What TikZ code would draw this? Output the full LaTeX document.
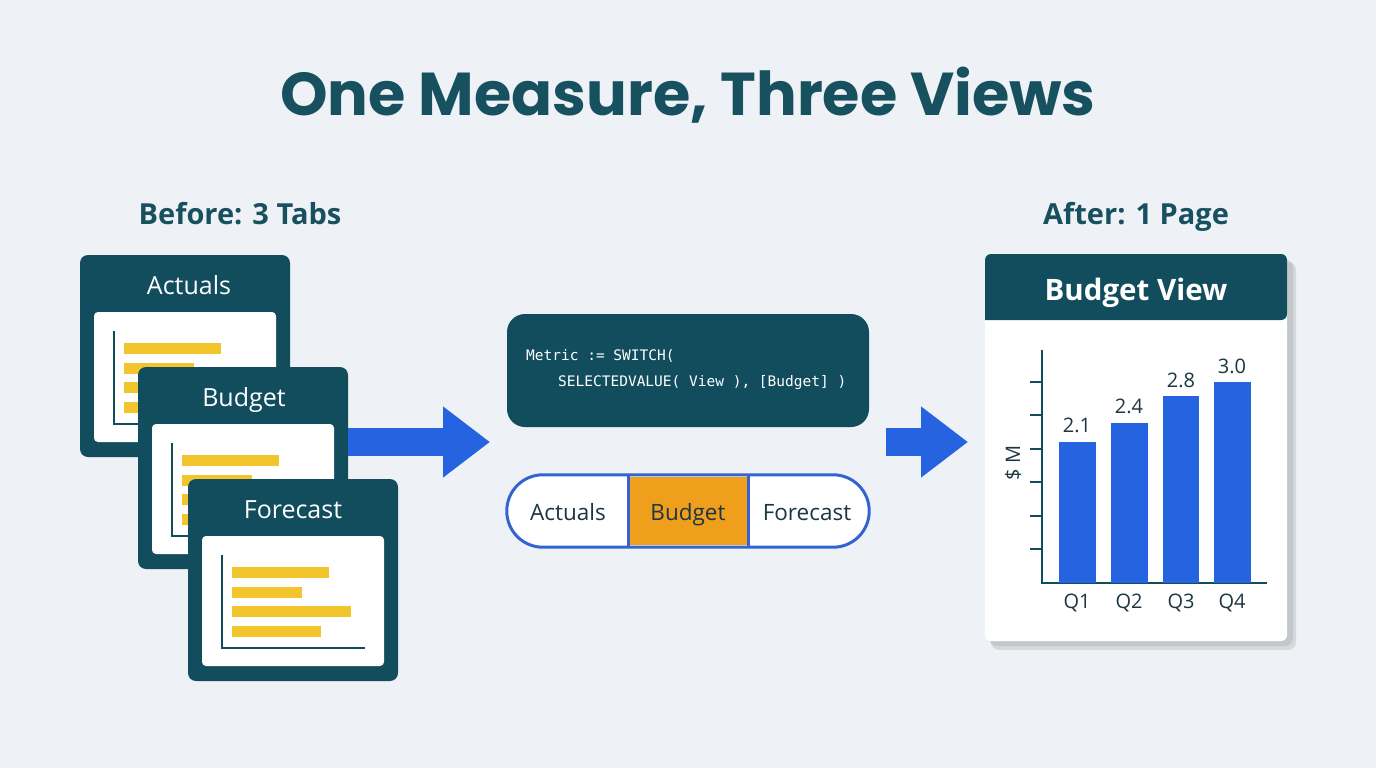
\documentclass[tikz,border=0pt]{standalone}
\usepackage{fontspec}
\setmainfont{Open Sans}
\newfontfamily\titlefont{Poppins}
\setmonofont{DejaVu Sans Mono}
\usetikzlibrary{positioning, calc, arrows.meta}

\definecolor{bgcol}{HTML}{EEF2F6}
\definecolor{tealdark}{HTML}{124D5E}
\definecolor{titlecol}{HTML}{17505F}
\definecolor{barblue}{HTML}{2563E0}
\definecolor{baryellow}{HTML}{F2C52C}
\definecolor{segorange}{HTML}{EF9F1C}
\definecolor{inkdark}{HTML}{1C3642}
\definecolor{pillblue}{HTML}{3364CF}

\begin{document}
\begin{tikzpicture}[
    x=1pt, y=-1pt,
    tab/.style={fill=tealdark, rounded corners=8pt, minimum width=210pt, minimum height=202pt, inner sep=0pt},
    panel/.style={fill=white, rounded corners=4pt, minimum width=182pt, minimum height=130pt, inner sep=0pt},
    tabtitle/.style={anchor=base, text=white, font=\fontsize{25}{30}\selectfont},
    heading/.style={anchor=base, text=titlecol, font=\bfseries\fontsize{29}{34}\selectfont},
    hbar/.style={fill=baryellow},
    axisline/.style={draw=tealdark, line width=2.5pt},
    flow/.style={draw=barblue, line width=28pt, -{Triangle[length=47pt, width=68pt]}},
    segtext/.style={anchor=base, text=inkdark, font=\fontsize{22.5}{27}\selectfont},
    codetext/.style={anchor=west, inner sep=0pt, text=white, font=\ttfamily\fontsize{14.5}{17}\selectfont},
    vbar/.style={fill=barblue},
    vallabel/.style={text=inkdark, font=\fontsize{20}{24}\selectfont}
]
    \useasboundingbox[fill=bgcol] (0,0) rectangle (1376,768);

    % Title
    \node[text=titlecol, font=\titlefont\bfseries\fontsize{60.5}{70}\selectfont] (title) at (688,95) {One Measure, Three Views};
    \node[heading] (before) at (240,224) {Before: 3 Tabs};
    \node[heading] (after) at (1136,224) {After: 1 Page};

    % Before: three tabs
    \node[tab] (tabA) at (185,356) {};
    \node[tabtitle] (tabAt) at (189,294) {Actuals};
    \node[panel] (panA) at (185,377) {};
    \draw[axisline] ($(panA.north west)+(20,19)$) -- ($(panA.south west)+(20,-18)$) -- ($(panA.south east)+(-19,-18)$);
    \fill[hbar] ($(panA.north west)+(30,31)$) rectangle +(97,11);
    \fill[hbar] ($(panA.north west)+(30,51)$) rectangle +(70,11);
    \fill[hbar] ($(panA.north west)+(30,70)$) rectangle +(119,11);
    \fill[hbar] ($(panA.north west)+(30,90)$) rectangle +(89,11);

    \node[tab] (tabB) at (243,468) {};
    \node[tabtitle] (tabBt) at (244,406) {Budget};
    \node[panel] (panB) at (243,489) {};
    \draw[axisline] ($(panB.north west)+(20,19)$) -- ($(panB.south west)+(20,-18)$) -- ($(panB.south east)+(-19,-18)$);
    \fill[hbar] ($(panB.north west)+(30,31)$) rectangle +(97,11);
    \fill[hbar] ($(panB.north west)+(30,51)$) rectangle +(70,11);
    \fill[hbar] ($(panB.north west)+(30,70)$) rectangle +(119,11);
    \fill[hbar] ($(panB.north west)+(30,90)$) rectangle +(89,11);

    \node[tab] (tabF) at (293,580) {};
    \node[tabtitle] (tabFt) at (293,518) {Forecast};
    \node[panel] (panF) at (293,601) {};
    \draw[axisline] ($(panF.north west)+(20,19)$) -- ($(panF.south west)+(20,-18)$) -- ($(panF.south east)+(-19,-18)$);
    \fill[hbar] ($(panF.north west)+(30,31)$) rectangle +(97,11);
    \fill[hbar] ($(panF.north west)+(30,51)$) rectangle +(70,11);
    \fill[hbar] ($(panF.north west)+(30,70)$) rectangle +(119,11);
    \fill[hbar] ($(panF.north west)+(30,90)$) rectangle +(89,11);

    % Measure and slicer
    \node[fill=tealdark, rounded corners=18pt, minimum width=362pt, minimum height=113pt] (code) at (688,370.5) {};
    \node[codetext] (codeA) at (526,356) {Metric := SWITCH(};
    \node[codetext] (codeB) at (558,383) {SELECTEDVALUE( View ), [Budget] )};

    \node[fill=white, rounded corners=36pt, minimum width=362pt, minimum height=72pt] (toggle) at (688,511) {};
    \fill[segorange] (628,477) rectangle (748,545);
    \draw[pillblue, line width=3pt, rounded corners=36pt] (toggle.north west) rectangle (toggle.south east);
    \draw[pillblue, line width=3pt] (628,476) -- (628,546);
    \draw[pillblue, line width=3pt] (748,476) -- (748,546);
    \node[segtext] (segA) at (568,520) {Actuals};
    \node[segtext] (segB) at (688,520) {Budget};
    \node[segtext] (segF) at (807,520) {Forecast};

    % Arrows
    \coordinate (flowAs) at (348,442);
    \coordinate (flowAe) at (490,442);
    \coordinate (flowBs) at (886,442);
    \coordinate (flowBe) at (968,442);
    \draw[flow] (flowAs) -- (flowAe);
    \draw[flow] (flowBs) -- (flowBe);

    % After: one page
    \fill[black, opacity=0.10, rounded corners=8pt] (991,262) rectangle (1296,650);
    \fill[black, opacity=0.08, rounded corners=8pt] (989,259) rectangle (1293,646);
    \node[fill=white, rounded corners=6pt, minimum width=302pt, minimum height=387pt] (view) at (1136,447.5) {};
    \fill[tealdark, rounded corners=6pt] (985,320) -- (985,254) -- (1287,254) -- (1287,320) [sharp corners] -- cycle;
    \node[anchor=base, text=white, font=\bfseries\fontsize{29.5}{34}\selectfont] (viewt) at (1136,300) {Budget View};

    \draw[axisline] (1042,350) -- (1042,583) -- (1267,583);
    \draw[axisline] (1030,382) -- (1042,382);
    \draw[axisline] (1030,415) -- (1042,415);
    \draw[axisline] (1030,449) -- (1042,449);
    \draw[axisline] (1030,482) -- (1042,482);
    \draw[axisline] (1030,516) -- (1042,516);
    \draw[axisline] (1030,549) -- (1042,549);
    \node[vallabel, rotate=90] (ylab) at (1013,463) {\$ M};

    \fill[vbar] (1059,583) rectangle (1096,442);
    \fill[vbar] (1111,583) rectangle (1148,423);
    \fill[vbar] (1163,583) rectangle (1199,396);
    \fill[vbar] (1214,583) rectangle (1251,382);
    \node[vallabel] (v1) at (1077,425) {2.1};
    \node[vallabel] (v2) at (1129,406) {2.4};
    \node[vallabel] (v3) at (1181,380) {2.8};
    \node[vallabel] (v4) at (1232,366) {3.0};
    \node[vallabel] (q1) at (1077,603) {Q1};
    \node[vallabel] (q2) at (1129,603) {Q2};
    \node[vallabel] (q3) at (1181,603) {Q3};
    \node[vallabel] (q4) at (1232,603) {Q4};
\end{tikzpicture}
\end{document}
